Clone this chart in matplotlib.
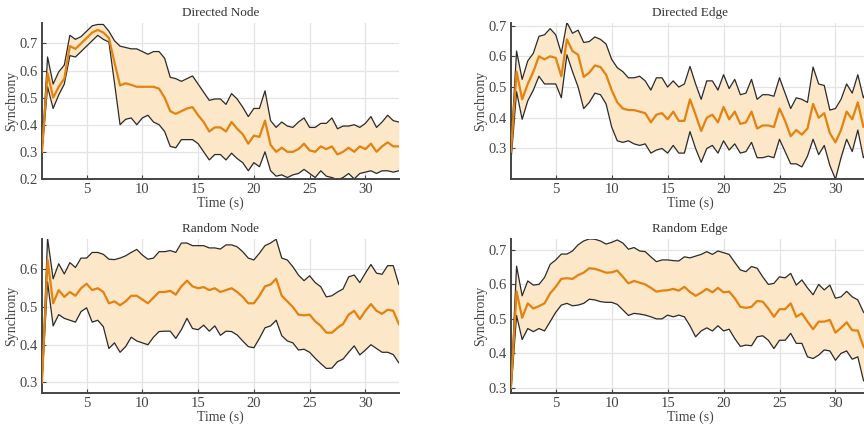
import numpy as np
import matplotlib
matplotlib.use("Agg")
import matplotlib.pyplot as plt

plt.rcParams['font.family'] = ['Liberation Serif', 'DejaVu Serif']

# time axis (s), sampled every 0.5 s
t = np.arange(1, 33.5, 0.5)

# Directed Node
dn_mean = [0.30, 0.59, 0.50, 0.54, 0.57, 0.69, 0.68, 0.70, 0.72, 0.74,
           0.75, 0.74, 0.72, 0.63, 0.545, 0.553, 0.547, 0.54, 0.54, 0.54,
           0.54, 0.533, 0.50, 0.45, 0.44, 0.45, 0.46, 0.465, 0.435, 0.41,
           0.375, 0.39, 0.39, 0.375, 0.41, 0.385, 0.365, 0.33, 0.36, 0.355,
           0.415, 0.325, 0.30, 0.315, 0.30, 0.30, 0.31, 0.33, 0.305, 0.30,
           0.32, 0.31, 0.32, 0.29, 0.30, 0.315, 0.30, 0.32, 0.31, 0.33,
           0.30, 0.32, 0.335, 0.32, 0.32]
dn_upper = [0.30, 0.65, 0.55, 0.595, 0.62, 0.73, 0.715, 0.725, 0.745, 0.765,
            0.77, 0.77, 0.745, 0.71, 0.69, 0.685, 0.68, 0.68, 0.67, 0.66,
            0.67, 0.67, 0.645, 0.575, 0.57, 0.56, 0.57, 0.58, 0.55, 0.52,
            0.49, 0.495, 0.495, 0.475, 0.515, 0.495, 0.465, 0.43, 0.46, 0.46,
            0.525, 0.415, 0.39, 0.41, 0.395, 0.39, 0.41, 0.425, 0.39, 0.39,
            0.405, 0.405, 0.425, 0.385, 0.395, 0.395, 0.40, 0.39, 0.405, 0.43,
            0.39, 0.41, 0.435, 0.415, 0.41]
dn_lower = [0.30, 0.54, 0.46, 0.51, 0.55, 0.655, 0.65, 0.67, 0.69, 0.71,
            0.73, 0.715, 0.705, 0.555, 0.40, 0.42, 0.425, 0.40, 0.425, 0.435,
            0.41, 0.40, 0.375, 0.32, 0.315, 0.345, 0.345, 0.345, 0.33, 0.30,
            0.27, 0.29, 0.29, 0.27, 0.295, 0.275, 0.26, 0.23, 0.26, 0.245,
            0.30, 0.23, 0.21, 0.215, 0.205, 0.215, 0.22, 0.235, 0.22, 0.205,
            0.23, 0.21, 0.205, 0.197, 0.205, 0.22, 0.20, 0.22, 0.225, 0.23,
            0.22, 0.23, 0.23, 0.225, 0.23]

# Directed Edge
de_mean = [0.29, 0.55, 0.46, 0.51, 0.55, 0.60, 0.59, 0.60, 0.595, 0.535,
           0.655, 0.617, 0.605, 0.533, 0.547, 0.57, 0.565, 0.54, 0.49, 0.45,
           0.43, 0.425, 0.425, 0.42, 0.415, 0.385, 0.41, 0.415, 0.395, 0.42,
           0.39, 0.39, 0.46, 0.41, 0.357, 0.40, 0.41, 0.385, 0.435, 0.395,
           0.42, 0.38, 0.385, 0.42, 0.365, 0.375, 0.375, 0.37, 0.43, 0.39,
           0.34, 0.36, 0.345, 0.365, 0.445, 0.40, 0.415, 0.35, 0.32, 0.36,
           0.42, 0.395, 0.45, 0.37, 0.40]
de_upper = [0.30, 0.617, 0.525, 0.585, 0.61, 0.665, 0.67, 0.69, 0.67, 0.61,
            0.71, 0.675, 0.685, 0.645, 0.648, 0.663, 0.655, 0.64, 0.59, 0.563,
            0.55, 0.53, 0.53, 0.535, 0.52, 0.49, 0.53, 0.53, 0.50, 0.52,
            0.50, 0.51, 0.567, 0.51, 0.46, 0.52, 0.52, 0.49, 0.54, 0.495,
            0.525, 0.475, 0.48, 0.525, 0.46, 0.475, 0.475, 0.47, 0.53, 0.48,
            0.43, 0.465, 0.46, 0.45, 0.565, 0.51, 0.505, 0.425, 0.43, 0.46,
            0.51, 0.48, 0.54, 0.465, 0.50]
de_lower = [0.26, 0.485, 0.395, 0.455, 0.49, 0.535, 0.51, 0.51, 0.51, 0.465,
            0.605, 0.55, 0.50, 0.43, 0.45, 0.48, 0.475, 0.445, 0.37, 0.325,
            0.32, 0.325, 0.315, 0.31, 0.315, 0.285, 0.295, 0.30, 0.285, 0.31,
            0.285, 0.285, 0.355, 0.30, 0.255, 0.30, 0.31, 0.285, 0.325, 0.295,
            0.315, 0.285, 0.29, 0.32, 0.27, 0.27, 0.275, 0.27, 0.33, 0.29,
            0.25, 0.25, 0.24, 0.275, 0.33, 0.28, 0.31, 0.245, 0.20, 0.27,
            0.33, 0.29, 0.36, 0.27, 0.30]

# Random Node
rn_mean = [0.30, 0.625, 0.51, 0.545, 0.527, 0.54, 0.53, 0.55, 0.562, 0.545,
           0.55, 0.54, 0.51, 0.515, 0.505, 0.515, 0.53, 0.53, 0.52, 0.51,
           0.525, 0.54, 0.54, 0.543, 0.533, 0.555, 0.57, 0.555, 0.55, 0.553,
           0.545, 0.55, 0.54, 0.545, 0.55, 0.54, 0.527, 0.51, 0.51, 0.53,
           0.555, 0.56, 0.575, 0.53, 0.515, 0.50, 0.48, 0.478, 0.48, 0.462,
           0.45, 0.432, 0.432, 0.445, 0.455, 0.48, 0.49, 0.468, 0.49, 0.508,
           0.49, 0.482, 0.493, 0.49, 0.455]
rn_upper = [0.30, 0.682, 0.575, 0.615, 0.588, 0.618, 0.605, 0.63, 0.63, 0.645,
            0.645, 0.64, 0.627, 0.626, 0.63, 0.636, 0.645, 0.653, 0.638, 0.627,
            0.63, 0.647, 0.647, 0.65, 0.645, 0.67, 0.67, 0.663, 0.663, 0.663,
            0.657, 0.657, 0.654, 0.665, 0.665, 0.66, 0.647, 0.63, 0.625, 0.643,
            0.663, 0.67, 0.68, 0.63, 0.625, 0.607, 0.585, 0.57, 0.583, 0.565,
            0.554, 0.527, 0.53, 0.54, 0.548, 0.58, 0.585, 0.565, 0.59, 0.613,
            0.59, 0.587, 0.61, 0.61, 0.56]
rn_lower = [0.30, 0.567, 0.45, 0.48, 0.47, 0.465, 0.46, 0.488, 0.498, 0.46,
            0.465, 0.448, 0.39, 0.405, 0.38, 0.395, 0.42, 0.41, 0.405, 0.40,
            0.42, 0.435, 0.436, 0.436, 0.417, 0.44, 0.47, 0.443, 0.44, 0.452,
            0.436, 0.45, 0.425, 0.436, 0.435, 0.426, 0.41, 0.395, 0.392, 0.417,
            0.445, 0.45, 0.465, 0.424, 0.41, 0.405, 0.386, 0.388, 0.38, 0.364,
            0.35, 0.337, 0.338, 0.355, 0.362, 0.38, 0.397, 0.373, 0.386, 0.40,
            0.39, 0.38, 0.38, 0.374, 0.352]

# Random Edge
re_mean = [0.30, 0.58, 0.503, 0.545, 0.53, 0.537, 0.545, 0.574, 0.593, 0.616,
           0.618, 0.616, 0.627, 0.634, 0.647, 0.645, 0.64, 0.634, 0.635, 0.64,
           0.622, 0.603, 0.61, 0.605, 0.60, 0.59, 0.579, 0.582, 0.583, 0.587,
           0.582, 0.593, 0.578, 0.567, 0.576, 0.587, 0.577, 0.59, 0.577, 0.579,
           0.56, 0.535, 0.532, 0.535, 0.552, 0.55, 0.53, 0.506, 0.528, 0.528,
           0.545, 0.506, 0.516, 0.492, 0.47, 0.492, 0.492, 0.497, 0.46, 0.474,
           0.49, 0.467, 0.466, 0.42, 0.40]
re_upper = [0.30, 0.653, 0.567, 0.61, 0.598, 0.60, 0.62, 0.658, 0.671, 0.688,
            0.688, 0.697, 0.715, 0.726, 0.732, 0.731, 0.726, 0.717, 0.722, 0.729,
            0.72, 0.702, 0.707, 0.697, 0.695, 0.68, 0.666, 0.671, 0.671, 0.669,
            0.668, 0.68, 0.677, 0.682, 0.687, 0.695, 0.687, 0.697, 0.692, 0.687,
            0.664, 0.642, 0.637, 0.652, 0.647, 0.622, 0.60, 0.603, 0.622, 0.619,
            0.632, 0.598, 0.613, 0.59, 0.57, 0.60, 0.584, 0.598, 0.56, 0.564,
            0.58, 0.564, 0.555, 0.52, 0.50]
re_lower = [0.29, 0.51, 0.44, 0.472, 0.463, 0.472, 0.465, 0.492, 0.519, 0.54,
            0.545, 0.538, 0.54, 0.545, 0.557, 0.555, 0.55, 0.548, 0.548, 0.542,
            0.526, 0.51, 0.516, 0.514, 0.511, 0.506, 0.50, 0.50, 0.511, 0.506,
            0.511, 0.506, 0.48, 0.448, 0.465, 0.474, 0.465, 0.48, 0.465, 0.47,
            0.443, 0.42, 0.424, 0.422, 0.448, 0.451, 0.438, 0.414, 0.438, 0.438,
            0.458, 0.429, 0.429, 0.39, 0.385, 0.395, 0.41, 0.407, 0.38, 0.40,
            0.407, 0.383, 0.39, 0.322, 0.30]

titles = ["Directed Node", "Directed Edge", "Random Node", "Random Edge"]
series = [(dn_mean, dn_upper, dn_lower), (de_mean, de_upper, de_lower),
          (rn_mean, rn_upper, rn_lower), (re_mean, re_upper, re_lower)]
ylims = [(0.2, 0.775), (0.201, 0.708), (0.271, 0.68), (0.284, 0.731)]
yticks = [[0.2, 0.3, 0.4, 0.5, 0.6, 0.7], [0.3, 0.4, 0.5, 0.6, 0.7],
          [0.3, 0.4, 0.5, 0.6], [0.3, 0.4, 0.5, 0.6, 0.7]]
# axes boxes in figure fractions (right column runs past the figure edge)
boxes = [[0.0486, 0.582, 0.413, 0.364], [0.5914, 0.582, 0.4144, 0.364],
         [0.0486, 0.081, 0.413, 0.36], [0.5914, 0.081, 0.4144, 0.36]]

orange = '#E3820F'
fill_c = '#FDE7C9'
txt = '#444444'

fig = plt.figure(figsize=(8.64, 4.28), dpi=100)

for i in range(4):
    ax = fig.add_axes(boxes[i])
    m, up, lo = series[i]
    ax.fill_between(t, lo, up, color=fill_c, lw=0, zorder=1)
    ax.plot(t, up, color='#2a2a2a', lw=0.9, zorder=2)
    ax.plot(t, lo, color='#2a2a2a', lw=0.9, zorder=2)
    ax.plot(t, m, color=orange, lw=1.6, zorder=3)

    ax.set_xlim(1, 33)
    ax.set_ylim(*ylims[i])
    ax.set_xticks([5, 10, 15, 20, 25, 30])
    ax.set_yticks(yticks[i])
    ax.set_yticklabels([f"{v:.1f}" for v in yticks[i]])
    ax.grid(True, color='#e3e3e3', lw=0.9)
    ax.set_axisbelow(True)
    for s in ['top', 'right']:
        ax.spines[s].set_visible(False)
    for s in ['left', 'bottom']:
        ax.spines[s].set_color('#444444')
        ax.spines[s].set_linewidth(1.4)
    ax.tick_params(direction='in', length=3, width=0.8, colors='#444444',
                   labelsize=10.5, labelcolor=txt, pad=3)
    ax.set_title(titles[i], fontsize=9.5, color='#333333', pad=5)
    ax.set_xlabel("Time (s)", fontsize=10, color=txt, labelpad=0)
    ax.set_ylabel("Synchrony", fontsize=10, color=txt, labelpad=1)

fig.savefig("out.png", dpi=100)
